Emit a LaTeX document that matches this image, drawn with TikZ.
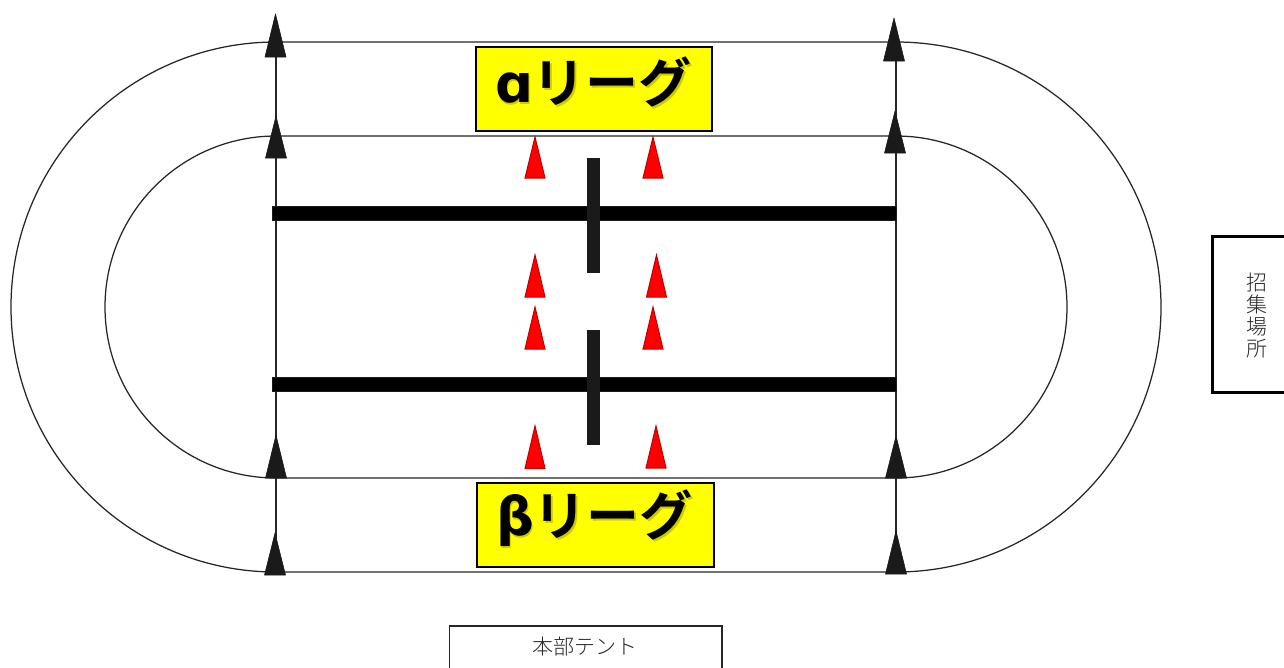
\documentclass[tikz,border=0pt]{standalone}
\usepackage{fontspec}
\newfontfamily\jpb{Noto Sans CJK JP Bold}
\newfontfamily\jpl{Noto Sans CJK JP Light}
\newfontfamily\lat{DejaVu Sans}
\definecolor{conek}{HTML}{1A1A1A}
\definecolor{conered}{HTML}{FF0000}
\definecolor{redline}{HTML}{C00000}
\definecolor{shadowy}{HTML}{8C8C00}
\definecolor{boxyellow}{HTML}{FFFF00}
\tikzset{
  track/.style={draw=black!85,line width=1.25pt},
  blackcone/.style={fill=conek,draw=conek,line width=0.6pt,line join=round},
  redcone/.style={fill=conered,draw=redline,line width=1pt,line join=miter},
  leaguebox/.style={draw=black,fill=boxyellow,line width=2pt},
  leaguetext/.style={font=\jpb\fontsize{53}{53}\selectfont,inner sep=0pt,anchor=center},
  tentbox/.style={draw=black!85,line width=1.1pt},
  callbox/.style={draw=black,line width=3pt},
  plaintext/.style={font=\jpl\fontsize{21}{24}\selectfont,text=black!85,inner sep=0pt}
}
\newcommand{\conept}[5]{\path[#1] (#2,#3) -- (#2+#5,#4) -- (#2-#5,#4) -- cycle;}
\begin{document}
\begin{tikzpicture}[x=1pt,y=-1pt]
\useasboundingbox (0,0) rectangle (1284,667);
\fill[white] (0,0) rectangle (1284,667);
\coordinate (oTL) at (276,42); \coordinate (oTR) at (896,42);
\coordinate (oBL) at (276,572); \coordinate (oBR) at (896,572);
\coordinate (iTL) at (276,136); \coordinate (iTR) at (896,136);
\coordinate (iBL) at (276,478); \coordinate (iBR) at (896,478);
% tracks
\draw[track] (oBL) arc[start angle=-90,end angle=-270,radius=265pt] -- (oTR) arc[start angle=90,end angle=-90,radius=265pt] -- cycle;
\draw[track] (iBL) arc[start angle=-90,end angle=-270,radius=171pt] -- (iTR) arc[start angle=90,end angle=-90,radius=171pt] -- cycle;
\draw[track] (oTL) -- (oBL);
\draw[track] (oTR) -- (oBR);
% bars
\fill[black] (272,206.5) rectangle (896,219.5);
\fill[black] (272,378) rectangle (896,391);
\draw[conek,line width=0.8pt] (272,206) rectangle (896,220);
\draw[conek,line width=0.8pt] (272,377.5) rectangle (896,391.5);
\fill[conek] (587,158) rectangle (600,273);
\fill[conek] (587,330) rectangle (600,445);
% black cones
\conept{blackcone}{275.5}{14}{57}{10.5}
\conept{blackcone}{276}{116}{158}{10.5}
\conept{blackcone}{276}{435}{478}{10.5}
\conept{blackcone}{275}{533}{575}{10.5}
\conept{blackcone}{894}{18}{61}{10.5}
\conept{blackcone}{895}{111}{153}{10.5}
\conept{blackcone}{896}{436}{478}{10.5}
\conept{blackcone}{896}{531}{574}{10.5}
% red cones
\conept{redcone}{535}{137}{178}{10}
\conept{redcone}{653}{137}{178}{10}
\conept{redcone}{535}{255}{297}{10}
\conept{redcone}{656.5}{255}{297}{10}
\conept{redcone}{535}{307}{349}{10}
\conept{redcone}{653}{307}{349}{10}
\conept{redcone}{535}{426}{468.5}{10}
\conept{redcone}{656}{426}{468}{10}
% league boxes
\node[leaguebox,minimum width=236pt,minimum height=84pt,inner sep=0pt] (alpha) at (593.5,88.5) {};
\node[leaguetext,text=shadowy,opacity=.45] (alphas) at (595,83.5) {{\lat\bfseries ɑ}リーグ};
\node[leaguetext] (alphat) at (593.5,82) {{\lat\bfseries ɑ}リーグ};
\node[leaguebox,minimum width=237pt,minimum height=84pt,inner sep=0pt] (beta) at (595,525) {};
\node[leaguetext,text=shadowy,opacity=.45] (betas) at (596,520) {{\lat\bfseries β}リーグ};
\node[leaguetext] (betat) at (594.5,518.5) {{\lat\bfseries β}リーグ};
% tent and call boxes
\draw[tentbox] (449.5,670) |- (722,626) -- (722,670);
\node[plaintext] (tent) at (584.5,647) {本部テント};
\draw[callbox] (1290,236) -| (1212,392) -- (1290,392);
\node[plaintext,align=center,font=\jpl\fontsize{21}{22}\selectfont] (call) at (1256.5,316) {招\\集\\場\\所};
\end{tikzpicture}
\end{document}
